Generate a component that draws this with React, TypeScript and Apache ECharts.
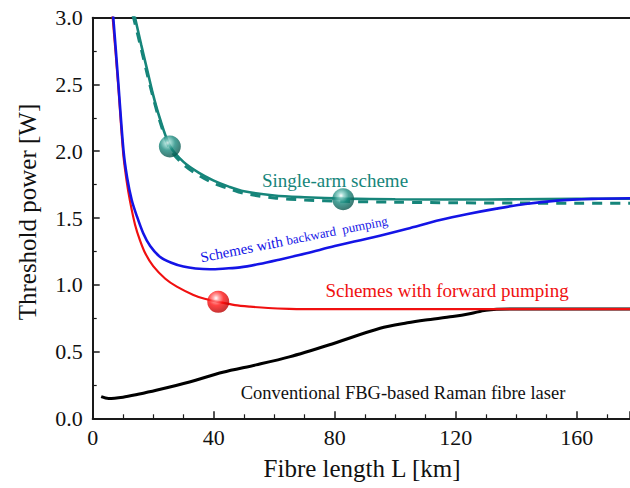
import React, { useEffect, useRef } from "react";
import * as echarts from "echarts";

// Fibre length L [km] and threshold power [W]
const singleArmL = [13.5, 14, 16, 18, 20, 22, 25.5, 30, 35, 40, 45, 50, 60, 70, 83, 100, 120, 140, 160, 177.6];
const singleArmP = [3.05, 3.0, 2.8, 2.61, 2.42, 2.26, 2.04, 1.92, 1.84, 1.78, 1.735, 1.70, 1.668, 1.655, 1.645, 1.64, 1.638, 1.64, 1.643, 1.645];

const singleArmDashL = [13.3, 16, 18, 20, 22, 25.5, 30, 35, 40, 45, 50, 60, 70, 83, 100, 120, 140, 160, 177.6];
const singleArmDashP = [3.02, 2.77, 2.58, 2.4, 2.24, 2.02, 1.9, 1.82, 1.76, 1.72, 1.685, 1.65, 1.635, 1.625, 1.618, 1.614, 1.612, 1.61, 1.61];

const backwardL = [6.4, 6.8, 8.5, 10.2, 11.4, 12.9, 14.5, 16.7, 19, 22.2, 26, 30, 34, 38.8, 44, 48.7, 55, 62, 70.7, 80, 92.8, 104, 114.8, 124, 133.5, 143, 153.4, 165, 177.6];
const backwardP = [3.05, 3.0, 2.5, 2.0, 1.8, 1.635, 1.52, 1.386, 1.29, 1.21, 1.165, 1.136, 1.122, 1.116, 1.122, 1.13, 1.155, 1.19, 1.236, 1.29, 1.356, 1.42, 1.485, 1.53, 1.57, 1.605, 1.63, 1.643, 1.648];

const forwardL = [6.2, 6.6, 8.4, 10.1, 11.2, 12.3, 14, 15.6, 17.5, 20, 24, 27.8, 33.3, 37, 41.5, 47, 52, 58, 65, 73, 90, 177.6];
const forwardP = [3.05, 3.0, 2.5, 1.98, 1.78, 1.63, 1.45, 1.335, 1.23, 1.14, 1.045, 0.986, 0.924, 0.895, 0.872, 0.848, 0.836, 0.826, 0.82, 0.817, 0.818, 0.818];

const fbgL = [2.8, 5.2, 10, 15, 21, 32, 43, 54, 65, 78, 95, 104, 110, 119, 125, 130, 139, 177.6];
const fbgP = [0.162, 0.148, 0.158, 0.18, 0.21, 0.272, 0.345, 0.4, 0.46, 0.549, 0.674, 0.715, 0.736, 0.762, 0.785, 0.81, 0.818, 0.818];

const singleArmMarkL = [25.5, 82.8];
const singleArmMarkP = [2.035, 1.64];
const forwardMarkL = [41.5];
const forwardMarkP = [0.872];

const xTicks = [0, 40, 80, 120, 160];

const FONT = "'Liberation Serif', 'Times New Roman', serif";
const TEAL = "#16857a";
const BLUE = "#1414e6";
const RED = "#f01010";
const AX = "#1a1a1a";

const zip = (xs: number[], ys: number[]) => xs.map((x, i) => [x, ys[i]]);

export default function App() {
  const ref = useRef<HTMLDivElement>(null);
  useEffect(() => {
    if (!ref.current) return;
    const chart = echarts.init(ref.current, undefined, { renderer: "svg" });
    const tealBall = new echarts.graphic.RadialGradient(0.4, 0.33, 0.68, [
      { offset: 0, color: "#ffffff" },
      { offset: 0.18, color: "#8fd3ca" },
      { offset: 0.5, color: "#1d8c80" },
      { offset: 1, color: "#0a544c" },
    ]);
    const redBall = new echarts.graphic.RadialGradient(0.4, 0.33, 0.68, [
      { offset: 0, color: "#ffffff" },
      { offset: 0.18, color: "#ff9a9a" },
      { offset: 0.5, color: "#ff1414" },
      { offset: 1, color: "#b80000" },
    ]);
    const lineCommon = {
      type: "line",
      showSymbol: false,
      symbol: "none",
      smooth: 0.3,
      clip: true,
    };
    const option: any = {
      animation: false,
      textStyle: { fontFamily: FONT },
      grid: { left: 92.7, right: 0, top: 17.7, bottom: 69.7, containLabel: false },
      xAxis: [
        {
          type: "value",
          min: 0,
          max: 177.6,
          interval: 40,
          axisLine: { show: true, onZero: false, lineStyle: { color: AX, width: 2 } },
          axisTick: { show: true, inside: true, length: 7, lineStyle: { color: AX, width: 1.5 } },
          minorTick: { show: true, splitNumber: 4, length: 4, lineStyle: { color: AX, width: 1.2 } },
          splitLine: { show: false },
          axisLabel: {
            margin: 8,
            fontSize: 22,
            fontFamily: FONT,
            color: "#111",
            showMaxLabel: false,
            formatter: (v: number) => (xTicks.includes(v) ? String(v) : ""),
          },
        },
        {
          type: "value",
          position: "top",
          min: 0,
          max: 177.6,
          axisLine: { show: true, onZero: false, lineStyle: { color: AX, width: 2 } },
          axisTick: { show: false },
          axisLabel: { show: false },
          splitLine: { show: false },
        },
      ],
      yAxis: {
        type: "value",
        min: 0,
        max: 3,
        interval: 0.5,
        axisLine: { show: true, onZero: false, lineStyle: { color: AX, width: 2 } },
        axisTick: { show: true, inside: true, length: 7, lineStyle: { color: AX, width: 1.5 } },
        minorTick: { show: true, splitNumber: 2, length: 4, lineStyle: { color: AX, width: 1.2 } },
        splitLine: { show: false },
        axisLabel: {
          margin: 10,
          fontSize: 22,
          fontFamily: FONT,
          color: "#111",
          formatter: (v: number) => v.toFixed(1),
        },
      },
      series: [
        { ...lineCommon, name: "fbg", data: zip(fbgL, fbgP), lineStyle: { color: "#000", width: 3 }, z: 2 },
        { ...lineCommon, name: "forward", data: zip(forwardL, forwardP), lineStyle: { color: RED, width: 2.2 }, z: 3 },
        {
          ...lineCommon,
          name: "singleDash",
          data: zip(singleArmDashL, singleArmDashP),
          lineStyle: { color: TEAL, width: 3, type: [10, 8] },
          z: 3,
        },
        { ...lineCommon, name: "single", data: zip(singleArmL, singleArmP), lineStyle: { color: TEAL, width: 2.6 }, z: 4 },
        { ...lineCommon, name: "backward", data: zip(backwardL, backwardP), lineStyle: { color: BLUE, width: 2.6 }, z: 5 },
        {
          type: "scatter",
          data: zip(singleArmMarkL, singleArmMarkP),
          symbolSize: 22,
          itemStyle: { color: tealBall },
          z: 10,
        },
        {
          type: "scatter",
          data: zip(forwardMarkL, forwardMarkP),
          symbolSize: 22,
          itemStyle: { color: redBall },
          z: 10,
        },
      ],
      graphic: [
        {
          type: "text",
          x: 27,
          y: 212,
          rotation: Math.PI / 2,
          style: {
            text: "Threshold power [W]",
            fontSize: 25,
            fontFamily: FONT,
            fill: "#111",
            textAlign: "center",
            textVerticalAlign: "middle",
          },
        },
        {
          type: "text",
          x: 362,
          y: 468,
          style: {
            text: "Fibre length L [km]",
            fontSize: 25,
            fontFamily: FONT,
            fill: "#111",
            textAlign: "center",
            textVerticalAlign: "middle",
          },
        },
        {
          type: "text",
          x: 335,
          y: 180,
          style: {
            text: "Single-arm scheme",
            fontSize: 19,
            fontFamily: FONT,
            fill: TEAL,
            textAlign: "center",
            textVerticalAlign: "middle",
          },
        },
        {
          type: "text",
          x: 447,
          y: 290,
          style: {
            text: "Schemes with forward pumping",
            fontSize: 19,
            fontFamily: FONT,
            fill: RED,
            textAlign: "center",
            textVerticalAlign: "middle",
          },
        },
        {
          type: "text",
          x: 403,
          y: 393,
          style: {
            text: "Conventional FBG-based Raman fibre laser",
            fontSize: 18.5,
            fontFamily: FONT,
            fill: "#111",
            textAlign: "center",
            textVerticalAlign: "middle",
          },
        },
        {
          type: "text",
          x: 294,
          y: 239,
          rotation: (11.2 * Math.PI) / 180,
          style: {
            text: "{a|Schemes with }{b|backward  pumping}",
            fontFamily: FONT,
            fill: BLUE,
            textAlign: "center",
            textVerticalAlign: "middle",
            rich: {
              a: { fontSize: 15, fontFamily: FONT, fill: BLUE },
              b: { fontSize: 13, fontFamily: FONT, fill: BLUE },
            },
          },
        },
      ],
    };
    chart.setOption(option);
    return () => chart.dispose();
  }, []);
  return (
    <div
      ref={ref}
      style={{ position: "fixed", left: 0, top: 0, width: 630, height: 488, background: "#fff" }}
    />
  );
}
